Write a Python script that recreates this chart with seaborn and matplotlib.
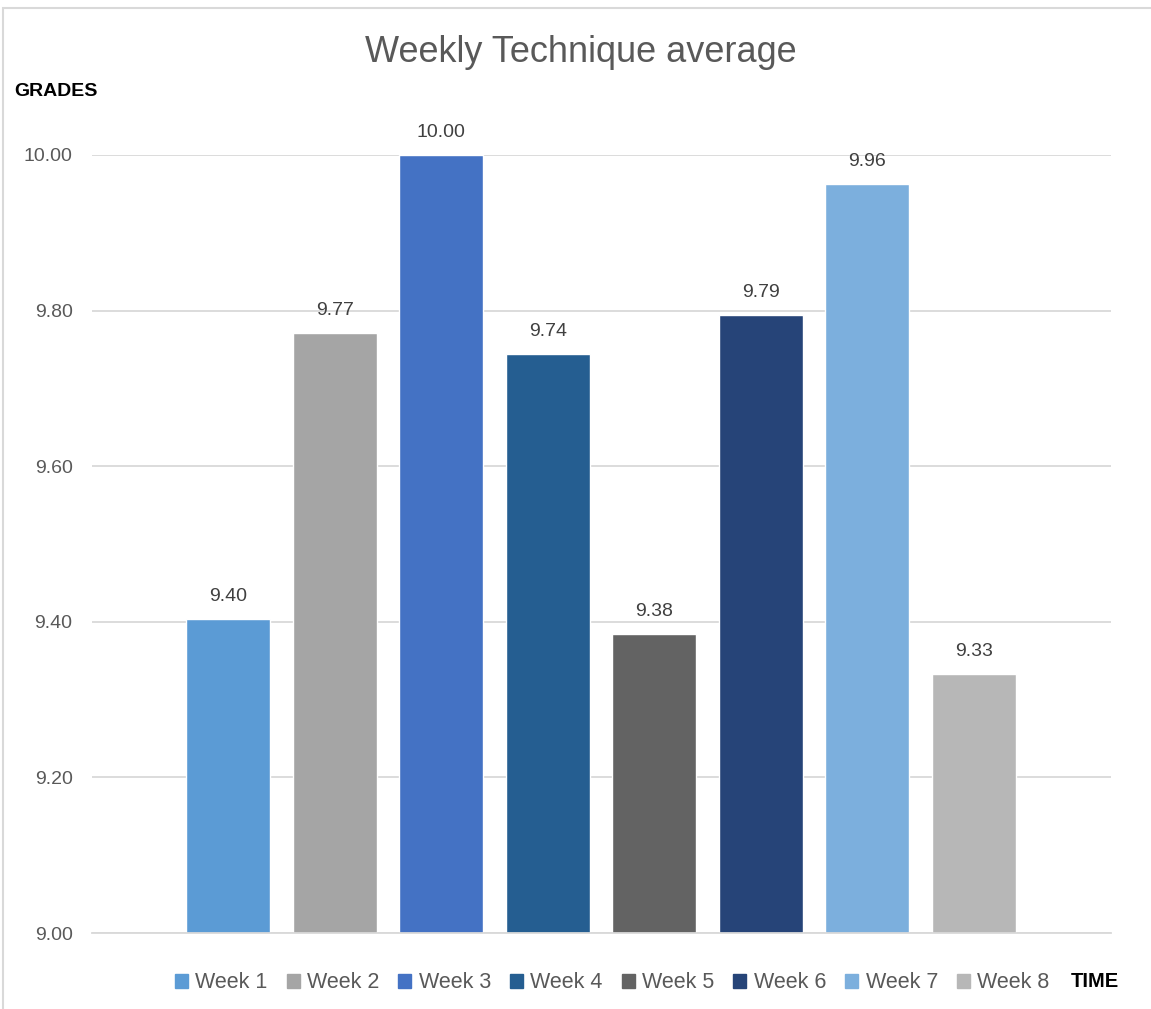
import matplotlib
matplotlib.use("Agg")
import matplotlib.pyplot as plt
import matplotlib.patches as mpatches
import seaborn as sns
import pandas as pd

weeks = ["Week 1", "Week 2", "Week 3", "Week 4", "Week 5", "Week 6", "Week 7", "Week 8"]
grades = [9.404, 9.771, 10.00, 9.744, 9.384, 9.794, 9.963, 9.333]
colors = ["#5B9BD5", "#A5A5A5", "#4472C4", "#255E91", "#636363", "#264478", "#7CAFDD", "#B7B7B7"]
yticks = [9.0, 9.2, 9.4, 9.6, 9.8, 10.0]

df = pd.DataFrame({"week": weeks, "grade": grades})

sns.set_style("white")
plt.rcParams['font.family'] = ['Liberation Sans', 'DejaVu Sans']

fig = plt.figure(figsize=(11.51, 10.09), dpi=100)
ax = fig.add_axes([0.0799, 0.0753, 0.8853, 0.7711])

sns.barplot(data=df, x="week", y="grade", hue="week", palette=colors,
            width=0.79, legend=False, saturation=1, ax=ax)

ax.set_ylim(9.0, 10.0)
ax.set_xlim(-1.28, 8.29)
ax.set_yticks(yticks)
ax.set_yticklabels([f"{t:.2f}" for t in yticks], fontsize=14, color="#595959")
ax.tick_params(axis="y", length=0, pad=14)
ax.set_xticks([])
ax.set_xlabel("")
ax.set_ylabel("")
ax.yaxis.grid(True, color="#D9D9D9", linewidth=1.3)
ax.set_axisbelow(True)
for s in ["top", "right", "left"]:
    ax.spines[s].set_visible(False)
ax.spines["bottom"].set_color("#D9D9D9")
ax.spines["bottom"].set_linewidth(1.3)

# value labels above bars
for i, v in enumerate(grades):
    ax.annotate(f"{v:.2f}", (i, v), xytext=(0, 10), textcoords="offset points",
                ha="center", va="bottom", fontsize=14, color="#404040", clip_on=False)

fig.text(0.505, 0.948, "Weekly Technique average", ha="center", va="center",
         fontsize=26, color="#595959")
fig.text(0.012, 0.909, "GRADES", ha="left", va="center", fontsize=14,
         fontweight="bold", color="#000000")
fig.text(0.930, 0.027, "TIME", ha="left", va="center", fontsize=14.5,
         fontweight="bold", color="#000000")

handles = [mpatches.Patch(color=c, label=w) for w, c in zip(weeks, colors)]
fig.legend(handles=handles, loc="center", bbox_to_anchor=(0.532, 0.026), ncol=8,
           frameon=False, fontsize=15.5, handlelength=0.6, handleheight=0.6,
           handletextpad=0.35, columnspacing=0.88, labelcolor="#595959")

border = mpatches.Rectangle((0.003, -0.1), 1.2, 0.1 + 0.992, transform=fig.transFigure,
                            fill=False, edgecolor="#D9D9D9", linewidth=1.5)
fig.add_artist(border)

fig.savefig("out.png", dpi=100)
